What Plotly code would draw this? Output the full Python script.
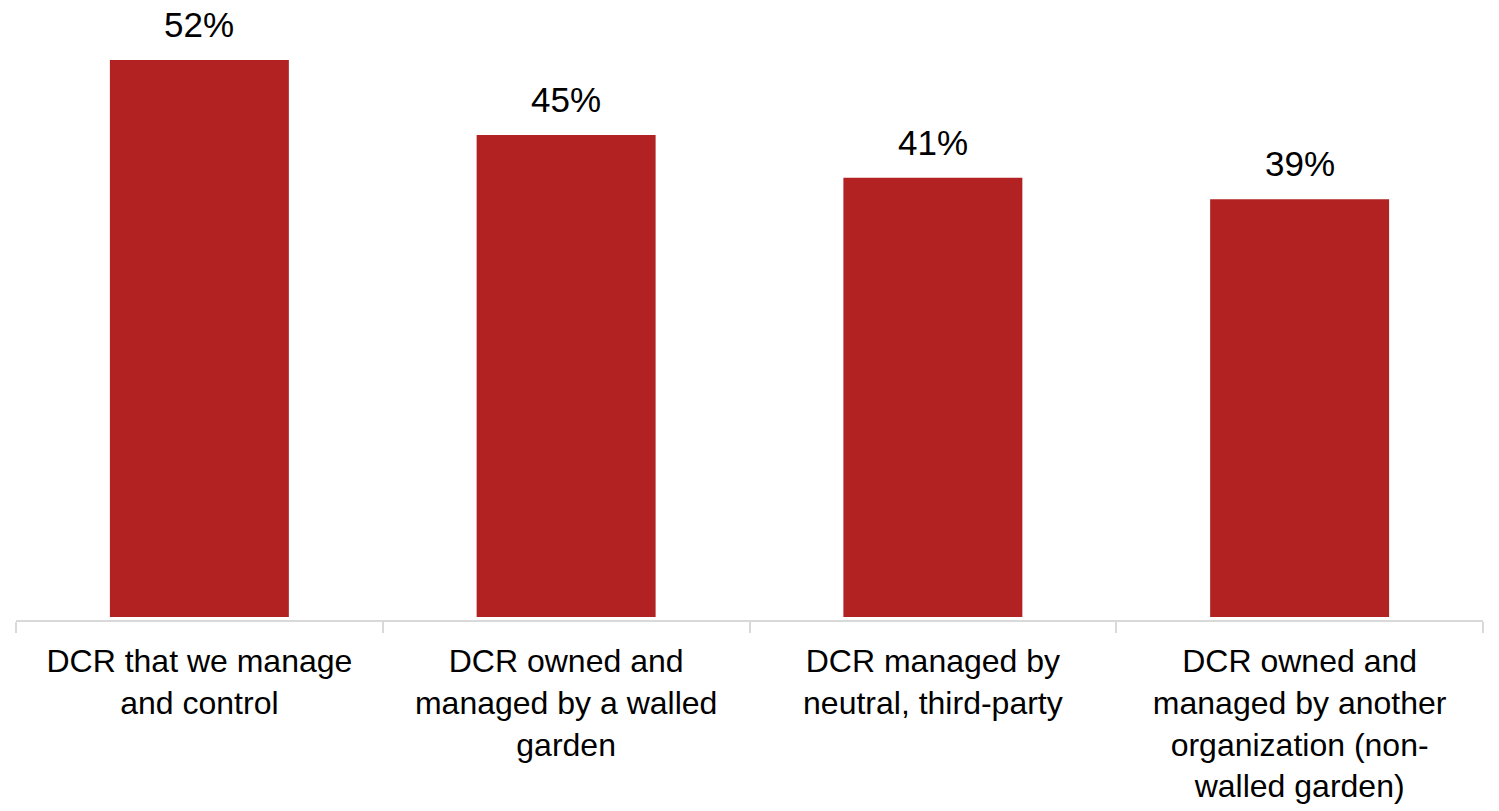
import plotly.graph_objects as go

categories = [
    "DCR that we manage<br>and control",
    "DCR owned and<br>managed by a walled<br>garden",
    "DCR managed by<br>neutral, third-party",
    "DCR owned and<br>managed by another<br>organization (non-<br>walled garden)",
]
values = [52, 45, 41, 39]

BAR_COLOR = "#B22222"
FONT = "Arial, Liberation Sans, sans-serif"

fig = go.Figure(
    go.Bar(
        x=categories,
        y=values,
        marker=dict(color=BAR_COLOR, line=dict(width=0)),
        hoverinfo="skip",
    )
)

# value labels above each bar
for cat, val in zip(categories, values):
    fig.add_annotation(
        x=cat, y=val, text=f"{val}%", showarrow=False,
        yanchor="bottom", yshift=14,
        font=dict(family=FONT, size=35, color="#000000"),
    )

fig.update_layout(
    width=1499, height=811,
    margin=dict(l=16, r=16, t=0, b=191),
    paper_bgcolor="white", plot_bgcolor="white",
    bargap=0.512,
    showlegend=False,
    font=dict(family=FONT, size=32, color="#000000"),
)
fig.update_xaxes(
    showline=True, linecolor="#D9D9D9", linewidth=2,
    ticks="outside", tickson="boundaries", ticklen=11, tickcolor="#D9D9D9", tickwidth=2,
    tickfont=dict(family=FONT, size=32, color="#000000"),
    ticklabelstandoff=12,
    showgrid=False,
)
fig.update_yaxes(visible=False, range=[-0.28, 57.6])

fig.write_html("out.html")
